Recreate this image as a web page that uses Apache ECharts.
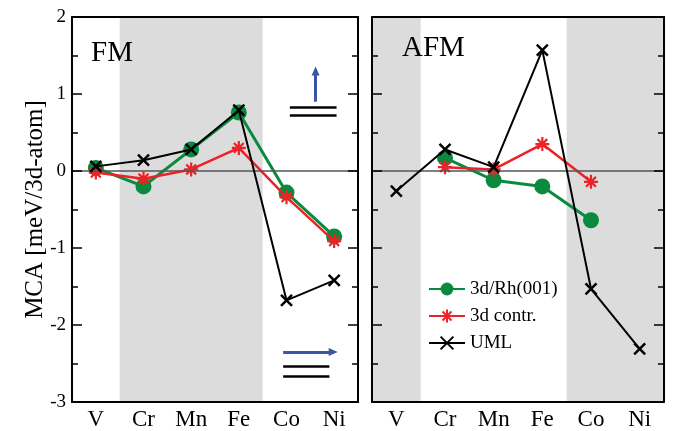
<!DOCTYPE html>
<html>
<head>
<meta charset="utf-8">
<script src="https://cdn.jsdelivr.net/npm/echarts@6/dist/echarts.min.js"></script>
<style>
html,body{margin:0;padding:0;background:#fff;}
#chart{width:673px;height:431px;}
</style>
</head>
<body>
<div id="chart"></div>
<script>
// ---- data ----
const categories = ['V', 'Cr', 'Mn', 'Fe', 'Co', 'Ni'];
const fmRh   = [0.04, -0.20, 0.28, 0.76, -0.28, -0.85];
const fmContr= [-0.02, -0.10, 0.02, 0.30, -0.34, -0.91];
const fmUml  = [0.06, 0.14, 0.28, 0.79, -1.68, -1.42];
const afmRh   = [null, 0.17, -0.12, -0.20, -0.64, null];
const afmContr= [null, 0.05, 0.02, 0.35, -0.14, null];
const afmUml  = [-0.26, 0.28, 0.05, 1.57, -1.53, -2.31];
// shaded bands (1 = shaded)
const fmShade  = [0, 1, 1, 1, 0, 0];
const afmShade = [1, 0, 0, 0, 1, 1];
const yMin = -3, yMax = 2;

const FONT = 'Liberation Serif';
const GREEN = '#0a8a3e', RED = '#ec2227', BLACK = '#000', BLUE = '#3a55a8', SHADE = '#dcdcdc';
const ASTER = 'path://M10,0L10,20M0,10L20,10M3,3L17,17M3,17L17,3';
const CROSS = 'path://M0,0L10,10M0,10L10,0';

// turn shade flags into contiguous category bands (index ± half a band)
function bands(flags) {
  const out = [];
  let start = -1;
  for (let i = 0; i <= flags.length; i++) {
    const on = i < flags.length && flags[i];
    if (on && start < 0) start = i;
    if (!on && start >= 0) { out.push([{ xAxis: start - 0.5 }, { xAxis: i - 0.5 }]); start = -1; }
  }
  return out;
}
function shadeSeries(flags, g) {
  return {
    type: 'line', name: 'shade' + g, xAxisIndex: 4 + g, yAxisIndex: g * 2, data: [], silent: true, z: 0,
    markArea: { silent: true, itemStyle: { color: SHADE, opacity: 1 }, label: { show: false }, data: bands(flags) }
  };
}
function zeroLine() {
  return { silent: true, symbol: 'none', label: { show: false },
    lineStyle: { color: '#555', width: 1.5, type: 'solid' }, data: [{ yAxis: 0 }] };
}
function lineSeries(name, data, g, kind) {
  const s = { type: 'line', name: name, data: data, xAxisIndex: g * 2, yAxisIndex: g * 2, z: 3 };
  if (kind === 'rh') {
    Object.assign(s, { symbol: 'circle', symbolSize: 16, itemStyle: { color: GREEN },
      lineStyle: { color: GREEN, width: 3 }, markLine: zeroLine() });
  } else if (kind === 'contr') {
    Object.assign(s, { symbol: ASTER, symbolSize: 14, z: 4,
      itemStyle: { color: RED, borderColor: RED, borderWidth: 2.2 },
      lineStyle: { color: RED, width: 2.5 } });
  } else {
    Object.assign(s, { symbol: CROSS, symbolSize: 11, z: 5,
      itemStyle: { color: BLACK, borderColor: BLACK, borderWidth: 2.5 },
      lineStyle: { color: BLACK, width: 2 } });
  }
  return s;
}
function xAx(g, pos) {
  return {
    type: 'category', gridIndex: g, position: pos, data: categories, z: 8,
    axisLine: { onZero: false, lineStyle: { color: '#000', width: 2 } },
    axisTick: { inside: true, alignWithLabel: true, length: 10, lineStyle: { color: '#000', width: 1.5 } },
    axisLabel: { show: pos === 'bottom', fontFamily: FONT, fontSize: 23, color: '#000', margin: 6 },
    splitLine: { show: false }
  };
}
function yAx(g, pos, labels) {
  const a = {
    type: 'value', gridIndex: g, position: pos, min: yMin, max: yMax, interval: 1, z: 8,
    axisLine: { show: true, onZero: false, lineStyle: { color: '#000', width: 2 } },
    axisTick: { show: true, inside: true, length: 10, lineStyle: { color: '#000', width: 1.5 } },
    minorTick: { show: true, splitNumber: 2, length: 6, lineStyle: { color: '#000', width: 1.5 } },
    axisLabel: { show: labels, fontFamily: FONT, fontSize: 19, color: '#000', margin: 6 },
    splitLine: { show: false }
  };
  if (labels) {
    Object.assign(a, { name: 'MCA [meV/3d-atom]', nameLocation: 'middle', nameRotate: 90, nameGap: 24,
      nameMoveOverlap: false,
      nameTextStyle: { fontFamily: FONT, fontSize: 25, color: '#000' } });
  }
  return a;
}
function seg(p1, p2) { return [{ coord: p1 }, { coord: p2 }]; }

const option = {
  animation: false,
  backgroundColor: '#fff',
  title: [
    { text: 'FM', left: 86, top: 34, textStyle: { fontFamily: FONT, fontSize: 29, fontWeight: 'normal', color: '#000' } },
    { text: 'AFM', left: 397, top: 29, textStyle: { fontFamily: FONT, fontSize: 29, fontWeight: 'normal', color: '#000' } }
  ],
  legend: {
    data: ['3d/Rh(001)', '3d contr.', 'UML'],
    orient: 'vertical', left: 423, top: 274, itemWidth: 36, itemHeight: 16, itemGap: 7,
    textStyle: { fontFamily: FONT, fontSize: 19, color: '#000', lineHeight: 20 }
  },
  grid: [
    { left: 72, top: 17, width: 286, height: 387 },
    { left: 372, top: 17, width: 292, height: 387 }
  ],
  xAxis: [xAx(0, 'bottom'), xAx(0, 'top'), xAx(1, 'bottom'), xAx(1, 'top'),
    { type: 'value', gridIndex: 0, min: -0.5, max: 5.5, show: false },
    { type: 'value', gridIndex: 1, min: -0.5, max: 5.5, show: false }],
  yAxis: [yAx(0, 'left', true), yAx(0, 'right', false), yAx(1, 'left', false), yAx(1, 'right', false)],
  series: [
    shadeSeries(fmShade, 0),
    shadeSeries(afmShade, 1),
    lineSeries('3d/Rh(001)', fmRh, 0, 'rh'),
    lineSeries('3d contr.', fmContr, 0, 'contr'),
    lineSeries('UML', fmUml, 0, 'uml'),
    lineSeries('3d/Rh(001)', afmRh, 1, 'rh'),
    lineSeries('3d contr.', afmContr, 1, 'contr'),
    lineSeries('UML', afmUml, 1, 'uml'),
    { // spin-orientation sketches
      type: 'line', name: 'deco', xAxisIndex: 4, yAxisIndex: 0, data: [], silent: true, z: 6,
      markLine: {
        silent: true, symbol: 'none', label: { show: false },
        lineStyle: { color: BLACK, width: 2.5, type: 'solid' },
        data: [
          seg([4.07, 0.83], [5.05, 0.83]), seg([4.07, 0.72], [5.05, 0.72]),
          seg([3.93, -2.54], [4.90, -2.54]), seg([3.93, -2.66], [4.90, -2.66]),
          [{ coord: [4.61, 0.90], symbol: 'none', lineStyle: { color: BLUE, width: 3 } },
           { coord: [4.61, 1.30], symbol: 'triangle', symbolSize: [8, 9] }],
          [{ coord: [3.93, -2.35], symbol: 'none', lineStyle: { color: BLUE, width: 3 } },
           { coord: [4.98, -2.35], symbol: 'triangle', symbolSize: [8, 9] }]
        ]
      }
    }
  ]
};
const chart = echarts.init(document.getElementById('chart'), null, { renderer: 'canvas' });
chart.setOption(option);
</script>
</body>
</html>
